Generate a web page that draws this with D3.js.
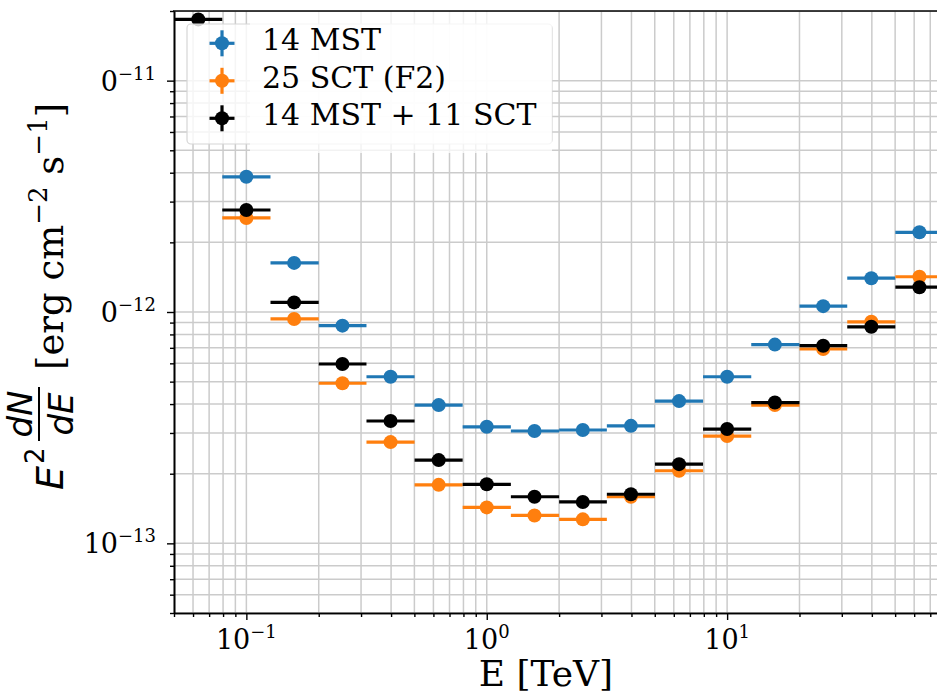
<!DOCTYPE html>
<html>
<head>
<meta charset="utf-8">
<script src="https://cdn.jsdelivr.net/npm/d3@7"></script>
<style>
  body { margin: 0; background: #fff; }
  svg { display: block; font-family: "DejaVu Serif", serif; }
</style>
</head>
<body>
<div class="js-chart"></div>
<script>
// bin centres and bin edges in TeV
var energy = [0.0631, 0.1, 0.158, 0.251, 0.398, 0.631, 1.0, 1.58, 2.51, 3.98, 6.31, 10, 15.8, 25.1, 39.8, 63.1];
var binEdges = [0.0501, 0.0794, 0.126, 0.2, 0.316, 0.501, 0.794, 1.26, 2.0, 3.16, 5.01, 7.94, 12.6, 20, 31.6, 50.1, 79.4];

// E^2 dN/dE in erg cm^-2 s^-1 (null = off the plot)
var mst = [null, 3.84e-12, 1.63e-12, 8.73e-13, 5.25e-13, 3.96e-13, 3.19e-13, 3.06e-13, 3.09e-13, 3.22e-13, 4.12e-13, 5.25e-13, 7.23e-13, 1.06e-12, 1.40e-12, 2.21e-12];
var sct = [null, 2.55e-12, 9.33e-13, 4.92e-13, 2.74e-13, 1.79e-13, 1.43e-13, 1.32e-13, 1.27e-13, 1.59e-13, 2.06e-13, 2.91e-13, 3.96e-13, 6.92e-13, 9.07e-13, 1.42e-12];
var mix = [1.84e-11, 2.76e-12, 1.10e-12, 5.96e-13, 3.38e-13, 2.29e-13, 1.80e-13, 1.59e-13, 1.51e-13, 1.63e-13, 2.20e-13, 3.12e-13, 4.06e-13, 7.15e-13, 8.63e-13, 1.28e-12];

var seriesNames = ['14 MST', '25 SCT (F2)', '14 MST + 11 SCT'];
var seriesColors = ['#1f77b4', '#ff7f0e', '#000000'];

var xTicks = [0.1, 1, 10];
var xTickLabels = [['10', '\u22121'], ['10', '0'], ['10', '1']];
var yTicks = [1e-13, 1e-12, 1e-11];
var yTickLabels = [['10', '\u221213'], ['0', '\u221212'], ['0', '\u221211']];

var width = 937;
var height = 696;
// plot box (the right edge runs past the picture)
var pLeft = 174, pRight = 967.5, pTop = 11, pBottom = 613;

var x = d3.scaleLog().domain([0.05, 100]).range([pLeft, pRight]);
var y = d3.scaleLog().domain([5e-14, 2e-11]).range([pBottom, pTop]);

var svg = d3.select('.js-chart').append('svg')
  .attr('width', width)
  .attr('height', height);

svg.append('defs').append('clipPath')
  .attr('id', 'plot-clip')
  .append('rect')
  .attr('x', pLeft)
  .attr('y', pTop)
  .attr('width', pRight - pLeft)
  .attr('height', pBottom - pTop);

// grid, major and minor look the same
var grid = svg.append('g').attr('clip-path', 'url(#plot-clip)');
grid.selectAll('.vgrid')
  .data(x.ticks())
  .enter()
  .append('line')
  .attr('x1', (d) => x(d))
  .attr('x2', (d) => x(d))
  .attr('y1', pTop)
  .attr('y2', pBottom)
  .attr('stroke', '#cbcbcb')
  .attr('stroke-width', 1.5);
grid.selectAll('.hgrid')
  .data(y.ticks())
  .enter()
  .append('line')
  .attr('x1', pLeft)
  .attr('x2', pRight)
  .attr('y1', (d) => y(d))
  .attr('y2', (d) => y(d))
  .attr('stroke', '#cbcbcb')
  .attr('stroke-width', 1.5);

// data: horizontal error bars + dots
var series = [mst, sct, mix];
var plot = svg.append('g').attr('clip-path', 'url(#plot-clip)');
series.forEach((values, s) => {
  var pts = energy.map((e, i) => ({ e: e, lo: binEdges[i], hi: binEdges[i + 1], v: values[i] }))
    .filter((d) => d.v !== null);
  var g = plot.append('g');
  g.selectAll('line')
    .data(pts)
    .enter()
    .append('line')
    .attr('x1', (d) => x(d.lo))
    .attr('x2', (d) => x(d.hi))
    .attr('y1', (d) => y(d.v))
    .attr('y2', (d) => y(d.v))
    .attr('stroke', seriesColors[s])
    .attr('stroke-width', 3.2);
  g.selectAll('circle')
    .data(pts)
    .enter()
    .append('circle')
    .attr('cx', (d) => x(d.e))
    .attr('cy', (d) => y(d.v))
    .attr('r', 7)
    .attr('fill', seriesColors[s]);
});

// axes
var xMinor = x.ticks().filter((d) => xTicks.indexOf(d) < 0);
var yMinor = y.ticks().filter((d) => yTicks.indexOf(d) < 0);

function styleAxis(g) {
  g.selectAll('path').attr('stroke', '#000').attr('stroke-width', 1.6);
  g.selectAll('line').attr('stroke', '#000').attr('stroke-width', 1.4);
}

svg.append('g')
  .attr('transform', `translate(0,${pBottom})`)
  .call(d3.axisBottom(x).tickValues(xMinor).tickSize(4).tickSizeOuter(0).tickFormat(''))
  .call(styleAxis);
svg.append('g')
  .attr('transform', `translate(0,${pBottom})`)
  .call(d3.axisBottom(x).tickValues(xTicks).tickSize(7).tickSizeOuter(0).tickFormat(''))
  .call(styleAxis);
svg.append('g')
  .attr('transform', `translate(${pLeft},0)`)
  .call(d3.axisLeft(y).tickValues(yMinor).tickSize(4).tickSizeOuter(0).tickFormat(''))
  .call(styleAxis);
svg.append('g')
  .attr('transform', `translate(${pLeft},0)`)
  .call(d3.axisLeft(y).tickValues(yTicks).tickSize(7).tickSizeOuter(0).tickFormat(''))
  .call(styleAxis);

// top spine
svg.append('line')
  .attr('x1', pLeft - 1)
  .attr('x2', width)
  .attr('y1', pTop)
  .attr('y2', pTop)
  .attr('stroke', '#000')
  .attr('stroke-width', 1.6);

// tick labels
var xl = svg.append('g').selectAll('text')
  .data(xTicks)
  .enter()
  .append('text')
  .attr('x', (d) => x(d))
  .attr('y', 649)
  .attr('text-anchor', 'middle')
  .attr('font-size', 27);
xl.append('tspan').text((d, i) => xTickLabels[i][0]);
xl.append('tspan').attr('dy', -11).attr('font-size', 18).text((d, i) => xTickLabels[i][1]);

var yl = svg.append('g').selectAll('text')
  .data(yTicks)
  .enter()
  .append('text')
  .attr('x', 156)
  .attr('y', (d) => y(d) + 10)
  .attr('text-anchor', 'end')
  .attr('font-size', 27);
yl.append('tspan').text((d, i) => yTickLabels[i][0]);
yl.append('tspan').attr('dy', -11).attr('font-size', 18).text((d, i) => yTickLabels[i][1]);

// x label
svg.append('text')
  .attr('x', 546)
  .attr('y', 686)
  .attr('text-anchor', 'middle')
  .attr('font-size', 36)
  .text('E [TeV]');

// y label: E^2 dN/dE [erg cm^-2 s^-1]
var ylab = svg.append('g').attr('transform', 'translate(63,490) rotate(-90)');
ylab.append('text')
  .attr('x', 0).attr('y', 0)
  .attr('font-family', 'DejaVu Sans').attr('font-style', 'italic')
  .attr('font-size', 38)
  .text('E');
ylab.append('text')
  .attr('x', 26).attr('y', -19)
  .attr('font-family', 'DejaVu Sans')
  .attr('font-size', 26)
  .text('2');
ylab.append('text')
  .attr('x', 76).attr('y', -31)
  .attr('text-anchor', 'middle')
  .attr('font-family', 'DejaVu Sans').attr('font-style', 'italic')
  .attr('font-size', 34)
  .text('dN');
ylab.append('line')
  .attr('x1', 49).attr('x2', 103)
  .attr('y1', -24).attr('y2', -24)
  .attr('stroke', '#000').attr('stroke-width', 2);
ylab.append('text')
  .attr('x', 76).attr('y', 10)
  .attr('text-anchor', 'middle')
  .attr('font-family', 'DejaVu Sans').attr('font-style', 'italic')
  .attr('font-size', 34)
  .text('dE');
var unit = ylab.append('text')
  .attr('x', 120).attr('y', 0)
  .attr('font-size', 37);
unit.append('tspan').text('[erg cm');
unit.append('tspan').attr('dy', -16).attr('font-size', 26).text('\u22122');
unit.append('tspan').attr('dy', 16).text(' s');
unit.append('tspan').attr('dy', -16).attr('font-size', 26).text('\u22121');
unit.append('tspan').attr('dy', 16).text(']');

// legend (semi transparent frame over the plot)
var legend = svg.append('g');
legend.append('rect')
  .attr('x', 187).attr('y', 24)
  .attr('width', 365).attr('height', 120)
  .attr('rx', 4)
  .attr('fill', '#fff').attr('fill-opacity', 0.8)
  .attr('stroke', '#d6d6d6').attr('stroke-width', 1.2);
legend.append('rect')
  .attr('x', 250).attr('y', 12)
  .attr('width', 302).attr('height', 141)
  .attr('fill', '#fff').attr('fill-opacity', 0.75);

var item = legend.selectAll('.item')
  .data(seriesNames)
  .enter()
  .append('g')
  .attr('transform', (d, i) => `translate(222,${43.3 + i * 37.5})`);
item.append('line')
  .attr('x1', -12.5).attr('x2', 12.5)
  .attr('stroke', (d, i) => seriesColors[i]).attr('stroke-width', 3.2);
item.append('line')
  .attr('y1', -13).attr('y2', 13)
  .attr('stroke', (d, i) => seriesColors[i]).attr('stroke-width', 3.2);
item.append('circle')
  .attr('r', 7)
  .attr('fill', (d, i) => seriesColors[i]);
item.append('text')
  .attr('x', 40)
  .attr('y', 7)
  .attr('font-size', 30)
  .text((d) => d);
</script>
</body>
</html>
